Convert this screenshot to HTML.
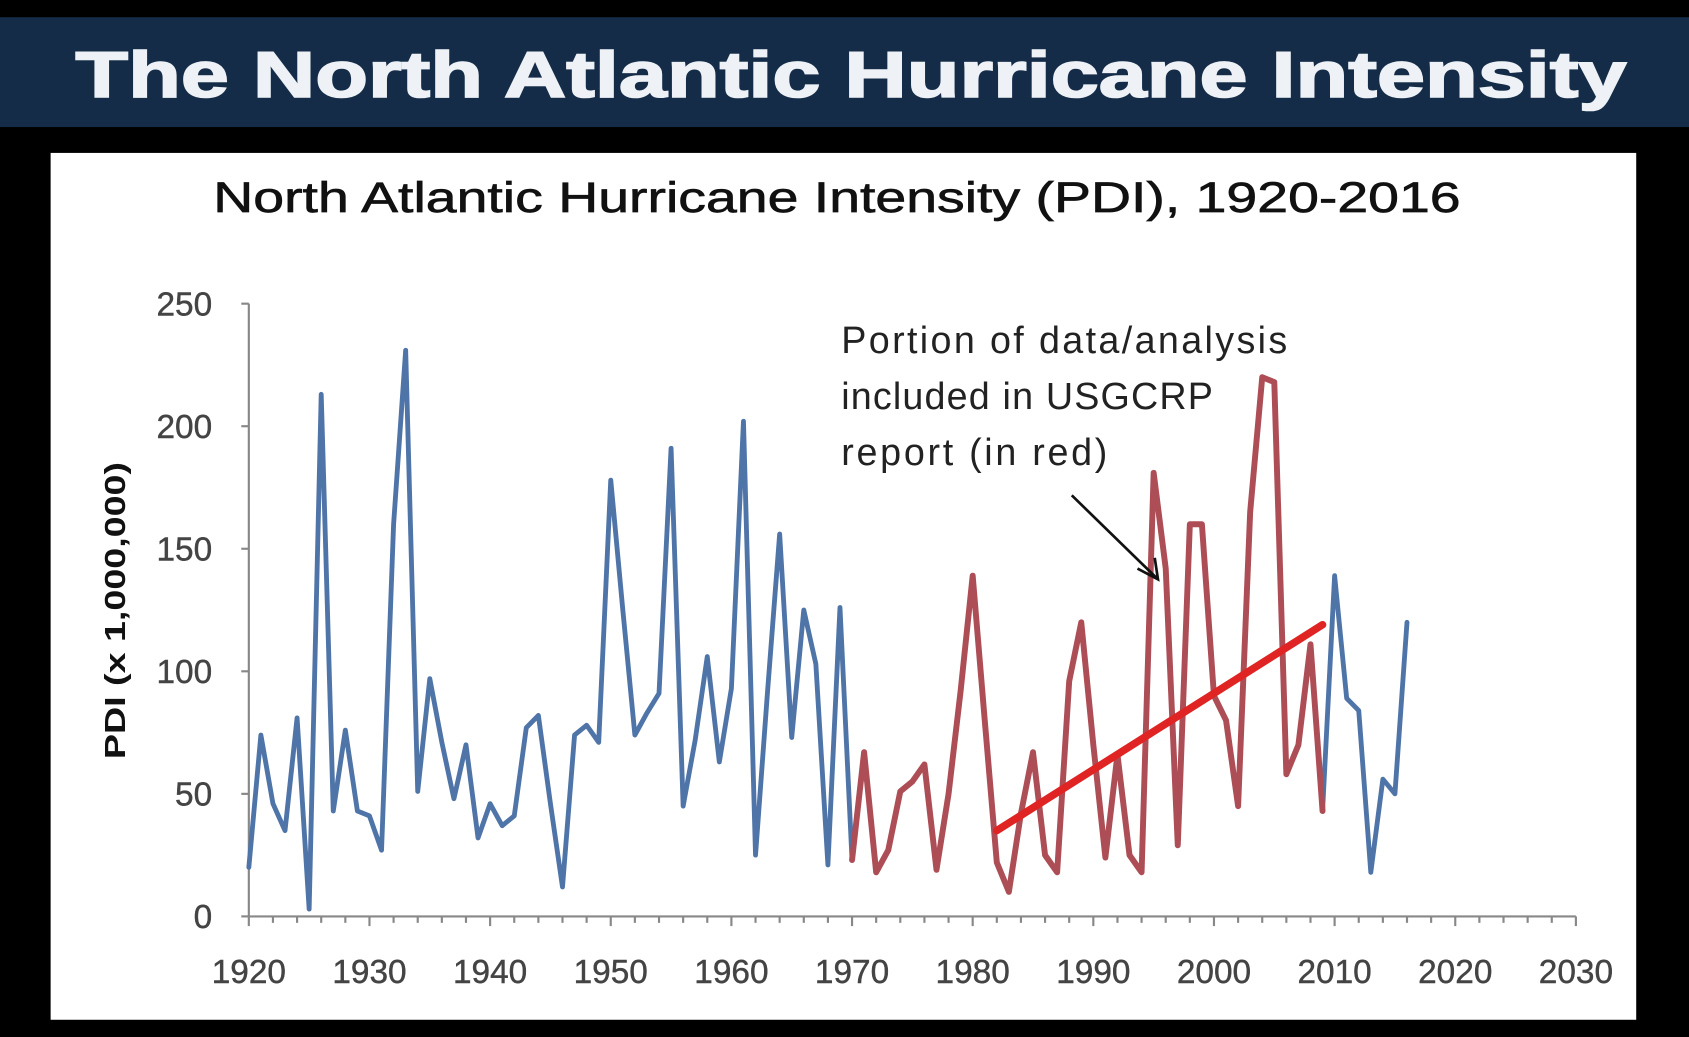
<!DOCTYPE html>
<html><head><meta charset="utf-8"><style>
html,body{margin:0;padding:0;background:#000;width:1689px;height:1037px;overflow:hidden}
svg{display:block}
</style></head><body>
<svg id="chart" width="1689" height="1037" viewBox="0 0 1568 963" preserveAspectRatio="none" xmlns="http://www.w3.org/2000/svg" font-family="'Liberation Sans', 'DejaVu Sans', sans-serif">
<rect x="0" y="0" width="1568" height="963" fill="#000"/>
<rect x="0" y="16" width="1568" height="102" fill="#142c48"/>
<text x="790" y="90" text-anchor="middle" font-size="60" font-weight="bold" fill="#eef2f6" stroke="#eef2f6" stroke-width="1.5" textLength="1440" lengthAdjust="spacingAndGlyphs">The North Atlantic Hurricane Intensity</text>
<rect x="47" y="142" width="1472" height="805" fill="#fff"/>
<text x="777" y="197" text-anchor="middle" font-size="40" fill="#111" stroke="#111" stroke-width="0.6" textLength="1158" lengthAdjust="spacingAndGlyphs">North Atlantic Hurricane Intensity (PDI), 1920-2016</text>
<text transform="translate(116,567) rotate(-90)" text-anchor="middle" font-size="27" font-weight="bold" fill="#111" textLength="276" lengthAdjust="spacingAndGlyphs">PDI (x 1,000,000)</text>
<g id="axes"></g>
<g id="series"></g>
<text font-size="35" fill="#222" lengthAdjust="spacingAndGlyphs">
<tspan x="781" y="328" textLength="414">Portion of data/analysis</tspan>
<tspan x="781" y="380" textLength="345">included in USGCRP</tspan>
<tspan x="781" y="432" textLength="247">report (in red)</tspan>
</text>
<line x1="995" y1="460" x2="1074" y2="537" stroke="#111" stroke-width="2.5"/>
<polyline points="1056,528 1075,538 1072,518" fill="none" stroke="#111" stroke-width="2.5"/>
</svg>
<script>
const yearsBlue1 = [1920,1921,1922,1923,1924,1925,1926,1927,1928,1929,1930,1931,1932,1933,1934,1935,1936,1937,1938,1939,1940,1941,1942,1943,1944,1945,1946,1947,1948,1949,1950,1951,1952,1953,1954,1955,1956,1957,1958,1959,1960,1961,1962,1963,1964,1965,1966,1967,1968,1969,1970];
const pdiBlue1 = [20,74,46,35,81,3,213,43,76,43,41,27,160,231,51,97,71,48,70,32,46,37,41,77,82,46,12,74,78,71,178,125,74,83,91,191,45,72,106,63,93,202,25,92,156,73,125,103,21,126,23];
const yearsRed = [1970,1971,1972,1973,1974,1975,1976,1977,1978,1979,1980,1981,1982,1983,1984,1985,1986,1987,1988,1989,1990,1991,1992,1993,1994,1995,1996,1997,1998,1999,2000,2001,2002,2003,2004,2005,2006,2007,2008,2009];
const pdiRed = [23,67,18,27,51,55,62,19,50,92,139,80,22,10,42,67,25,18,96,120,70,24,66,25,18,181,142,29,160,160,90,80,45,165,220,218,58,70,111,43];
const yearsBlue2 = [2009,2010,2011,2012,2013,2014,2015,2016];
const pdiBlue2 = [43,139,89,84,18,56,50,120];
const trendYears = [1982,2009];
const trendValues = [35,119];
const xTicks = [1920,1930,1940,1950,1960,1970,1980,1990,2000,2010,2020,2030];
const yTicks = [0,50,100,150,200,250];

const NS='http://www.w3.org/2000/svg';
const X0=231,X1=1463,Y0=851,Y1=282;
const xs=y=>X0+(y-1920)/(2030-1920)*(X1-X0);
const ys=v=>Y0-(v/250)*(Y0-Y1);
const axes=document.getElementById('axes');
const series=document.getElementById('series');
function mk(tag,attrs,parent){const e=document.createElementNS(NS,tag);for(const k in attrs)e.setAttribute(k,attrs[k]);parent.appendChild(e);return e;}

const yAxis=mk('line',{x1:X0,y1:Y1,x2:X0,y2:Y0,stroke:'#888','stroke-width':2},axes);


const xAxis=mk('line',{x1:X0,y1:Y0,x2:X1,y2:Y0,stroke:'#888','stroke-width':2},axes);


yTicks.forEach(v=>{
  const t=mk('line',{x1:X0-7,y1:ys(v),x2:X0,y2:ys(v),stroke:'#888','stroke-width':2},axes);
  
  
  const l=mk('text',{x:X0-34,y:ys(v)+11,'text-anchor':'end','font-size':31,fill:'#444',stroke:'#444','stroke-width':0.4},axes);
  l.textContent=v;
  
  
});
for(let yr=1920;yr<=2030;yr+=2){
  const big=yr%10===0;
  const t=mk('line',{x1:xs(yr),y1:Y0,x2:xs(yr),y2:Y0+(big?9:6),stroke:'#888','stroke-width':2},axes);
  
  
}
xTicks.forEach(yr=>{
  const l=mk('text',{x:xs(yr),y:913,'text-anchor':'middle','font-size':31,fill:'#444',stroke:'#444','stroke-width':0.4},axes);
  l.textContent=yr;
  
  
});
function line(years,vals,color,w){
  return mk('polyline',{points:years.map((y,i)=>xs(y)+','+ys(vals[i])).join(' '),fill:'none',stroke:color,'stroke-width':w,'stroke-linejoin':'round','stroke-linecap':'round'},series);
}
const b1=line(yearsBlue1,pdiBlue1,'#4f74a8',4.5);


const b2=line(yearsBlue2,pdiBlue2,'#4f74a8',4.5);


const r=line(yearsRed,pdiRed,'#ad4d55',5.5);


const tr=line(trendYears,trendValues,'#e02424',7);


</script>
</body></html>
